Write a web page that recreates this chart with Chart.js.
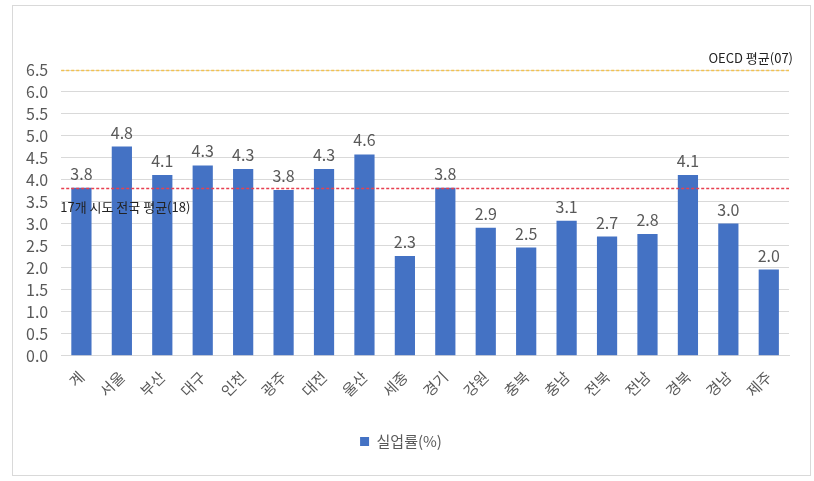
<!DOCTYPE html>
<html>
<head>
<meta charset="utf-8">
<script src="https://cdn.jsdelivr.net/npm/chart.js@4"></script>
<style>
    body { margin: 0; background: #fff; }
    #box {
        position: absolute; left: 12px; top: 5px;
        width: 797px; height: 469px;
        border: 1px solid #d9d9d9;
    }
</style>
</head>
<body>
<div id="box"><canvas id="myChart"></canvas></div>
<script>
var regions = ["계", "서울", "부산", "대구", "인천", "광주", "대전", "울산", "세종", "경기",
    "강원", "충북", "충남", "전북", "전남", "경북", "경남", "제주"];
var rates = [3.82, 4.76, 4.11, 4.33, 4.25, 3.77, 4.25, 4.58, 2.27, 3.82,
    2.91, 2.46, 3.07, 2.71, 2.77, 4.11, 3.01, 1.96];
var refValues = [6.5, 3.82];
var refLabels = ["OECD 평균(07)", "17개 시도 전국 평균(18)"];
var yTicks = [0, 6.5, 0.5]; // min, max, step

var font = "'Noto Sans CJK KR', 'Noto Sans', sans-serif";

// horizontal reference lines + their captions
var refLines = {
    id: 'refLines',
    afterDatasetsDraw: function (chart) {
        var c = chart.ctx, a = chart.chartArea, y = chart.scales.y;
        var colors = ["#f2c14e", "#e8404f"];
        c.save();
        refValues.forEach(function (v, i) {
            var py = Math.round(y.getPixelForValue(v)) + 0.5;
            c.strokeStyle = colors[i];
            c.lineWidth = 1.5;
            c.setLineDash([3, 2]);
            c.beginPath();
            c.moveTo(a.left, py);
            c.lineTo(a.right, py);
            c.stroke();
        });
        c.setLineDash([]);
        c.fillStyle = "#222";
        c.font = "13px " + font;
        c.textBaseline = "middle";
        c.textAlign = "right";
        c.fillText(refLabels[0], a.right + 4, y.getPixelForValue(refValues[0]) - 12);
        c.textAlign = "left";
        c.fillText(refLabels[1], a.left - 1, y.getPixelForValue(refValues[1]) + 19);
        c.restore();
    }
};

// value labels above bars
var barLabels = {
    id: 'barLabels',
    afterDatasetsDraw: function (chart) {
        var c = chart.ctx;
        var meta = chart.getDatasetMeta(0);
        c.save();
        c.fillStyle = "#595959";
        c.font = "16px " + font;
        c.textAlign = "center";
        c.textBaseline = "bottom";
        meta.data.forEach(function (bar, i) {
            c.fillText(rates[i].toFixed(1), bar.x, bar.y - 6);
        });
        c.restore();
    }
};

var ctx = document.getElementById("myChart");
var myBarChart = new Chart(ctx, {
    type: 'bar',
    data: {
        labels: regions,
        datasets: [{
            label: "실업률(%)",
            data: rates,
            backgroundColor: "#4472c4",
            categoryPercentage: 1,
            barPercentage: 0.5
        }]
    },
    options: {
        responsive: true,
        maintainAspectRatio: false,
        animation: false,
        layout: { padding: { top: 64, left: 0, right: 21, bottom: 16 } },
        plugins: {
            legend: {
                position: 'bottom',
                labels: {
                    boxWidth: 9, boxHeight: 9,
                    color: "#595959",
                    font: { family: font, size: 15 },
                    padding: 22
                }
            },
            tooltip: { enabled: false }
        },
        scales: {
            x: {
                grid: { display: false, drawTicks: false },
                border: { color: "#d9d9d9" },
                ticks: {
                    color: "#595959",
                    font: { family: font, size: 15 },
                    minRotation: 45, maxRotation: 45,
                    padding: 12
                }
            },
            y: {
                min: yTicks[0], max: yTicks[1],
                grid: { color: "#d9d9d9", drawTicks: false },
                border: { display: false },
                ticks: {
                    stepSize: yTicks[2],
                    autoSkip: false,
                    color: "#595959",
                    font: { family: font, size: 16 },
                    padding: 13,
                    callback: function (v) { return v.toFixed(1); }
                }
            }
        }
    },
    plugins: [refLines, barLabels]
});
</script>
</body>
</html>
